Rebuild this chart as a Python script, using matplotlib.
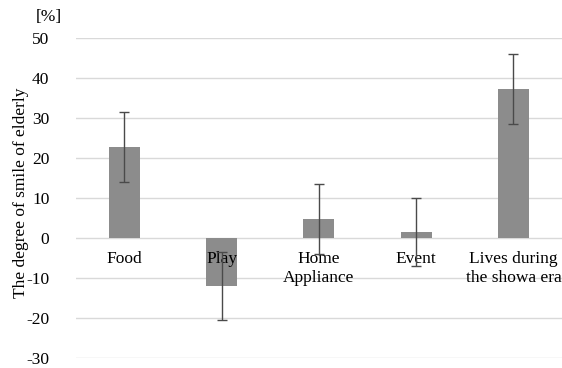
import matplotlib
matplotlib.use('Agg')
import numpy as np
import matplotlib.pyplot as plt

# category names and mean smile degree (%) with error
categories = ["Food", "Play", "Home\nAppliance", "Event", "Lives during\nthe showa era"]
values = [22.7, -12.0, 4.7, 1.5, 37.2]
errors = [8.7, 8.5, 8.8, 8.5, 8.7]
yticks = [-30, -20, -10, 0, 10, 20, 30, 40, 50]


def main() -> None:
    plt.rcParams['font.family'] = ['Liberation Serif', 'DejaVu Serif']

    fig = plt.figure(figsize=(5.62, 3.68), dpi=100)
    ax = fig.add_axes([0.135, 0.027, 0.865, 0.87])

    x = np.arange(len(categories))
    ax.bar(x, values, width=0.32, color="#8c8c8c", zorder=2)
    ax.errorbar(x, values, yerr=errors, fmt="none", ecolor="#4a4a4a",
                elinewidth=1, capsize=3.5, capthick=1, zorder=3)

    ax.set_xlim(-0.5, len(categories) - 0.5)
    ax.set_ylim(-30, 50)
    ax.set_yticks(yticks)
    ax.set_yticklabels([str(t) for t in yticks], fontsize=12.5)
    ax.grid(axis="y", color="#d9d9d9", linewidth=1, zorder=0)

    # category labels sit under the zero line, drawn over the bars
    ax.spines['bottom'].set_position(('data', 0))
    for s in ax.spines.values():
        s.set_visible(False)
    ax.set_xticks(x)
    ax.set_xticklabels(categories, fontsize=12.5, linespacing=1.3)
    ax.xaxis.set_zorder(2.5)
    ax.tick_params(axis="x", length=0, pad=9)
    ax.tick_params(axis="y", length=0, pad=19)

    ax.set_ylabel("The degree of smile of elderly", fontsize=12.5)
    ax.yaxis.set_label_coords(-0.097, 0.516)
    fig.text(0.087, 0.955, "[%]", fontsize=12.5, ha="center", va="center")

    fig.savefig("out.png", dpi=100)


if __name__ == "__main__":
    main()
